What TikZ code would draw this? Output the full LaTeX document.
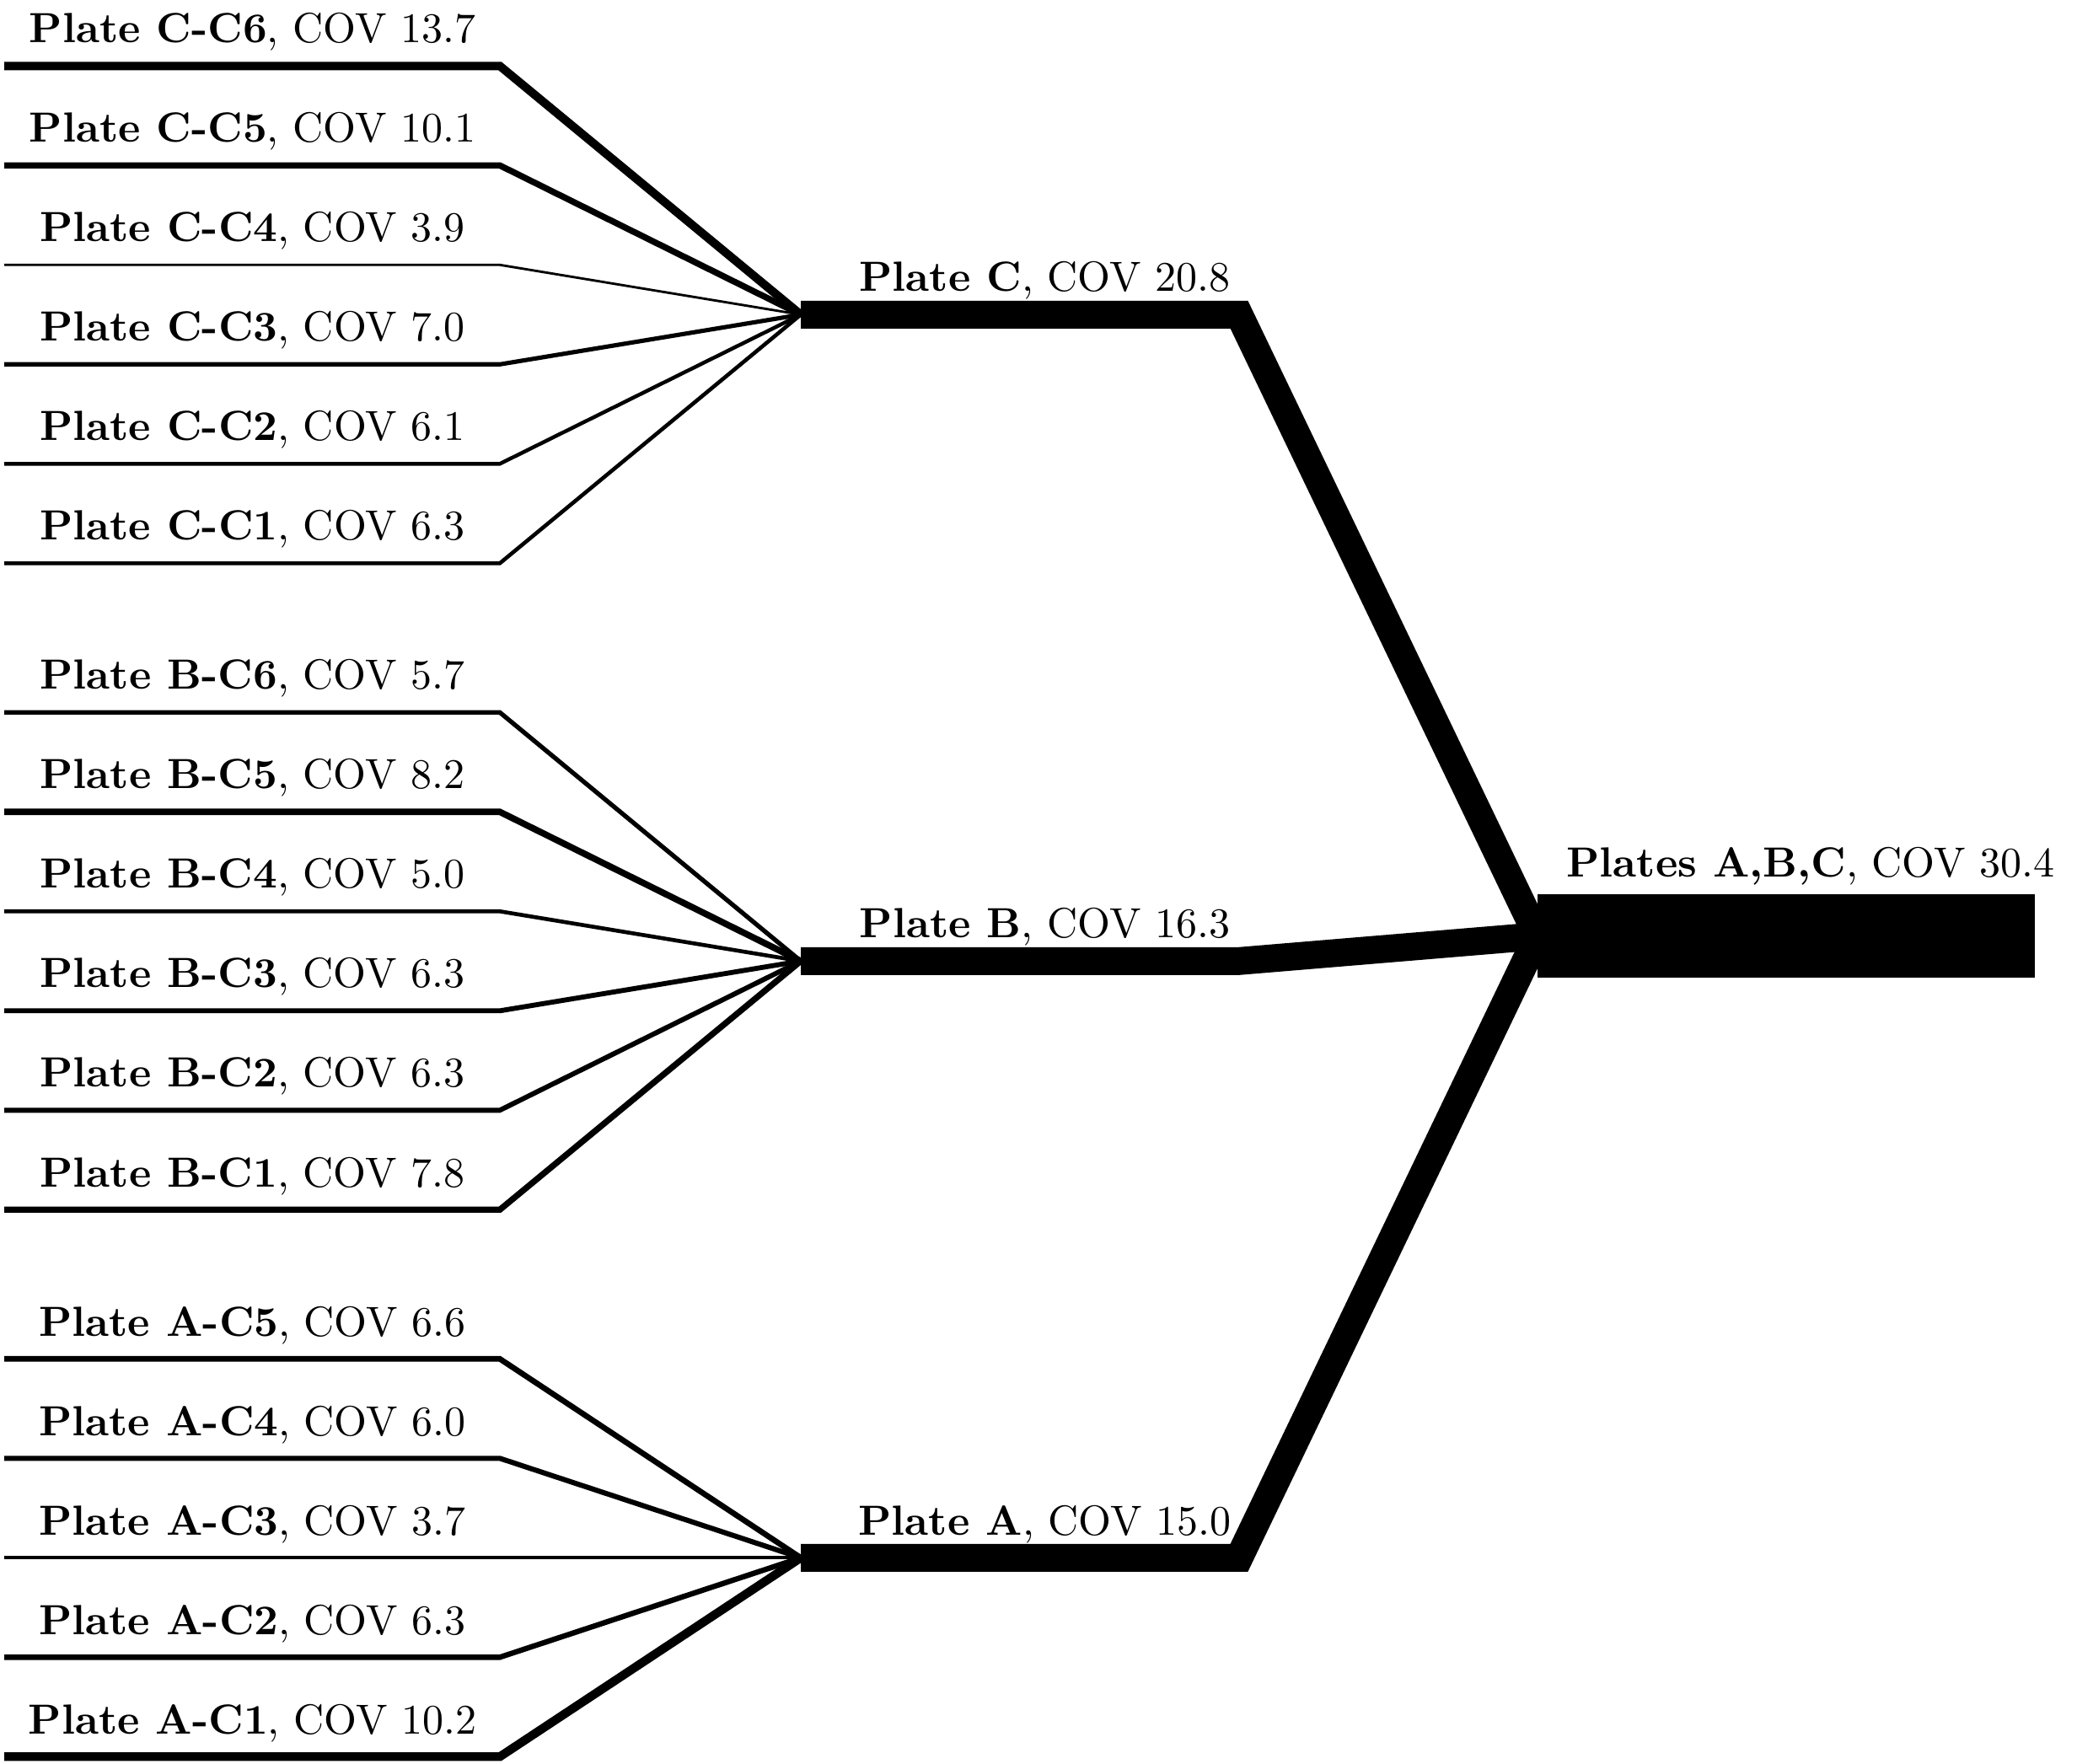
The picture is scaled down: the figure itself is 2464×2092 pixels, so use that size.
\documentclass[tikz,border=0pt]{standalone}
\begin{document}
\begin{tikzpicture}[x=0.2pt,y=-0.2pt,line join=miter,line cap=butt,
  lbl/.style={above,font=\fontsize{10}{12}\selectfont,text=black}]
\useasboundingbox (0,0) rectangle (2464,2092);
% junctions
\coordinate (jC) at (950,373.3);
\coordinate (jB) at (950,1140.3);
\coordinate (jA) at (950,1848.3);
\coordinate (kC) at (1470,373.3);
\coordinate (kB) at (1470,1140.3);
\coordinate (kA) at (1470,1848.3);
\coordinate (root) at (1824,1110.8);
\coordinate (rootEnd) at (2414,1110.8);
% leaves: group/name/index/cov/width(px)
\foreach \g/\c/\idx/\cov/\w in {
  C/C6/0/13.7/10.0, C/C5/1/10.1/7.38, C/C4/2/3.9/2.85, C/C3/3/7.0/5.12, C/C2/4/6.1/4.46, C/C1/5/6.3/4.6,
  B/C6/6.5/5.7/5.32, B/C5/7.5/8.2/7.65, B/C4/8.5/5.0/4.66, B/C3/9.5/6.3/5.87, B/C2/10.5/6.3/5.87, B/C1/11.5/7.8/7.27,
  A/C5/13/6.6/6.69, A/C4/14/6.0/6.08, A/C3/15/3.7/3.75, A/C2/16/6.3/6.38, A/C1/17/10.2/10.3}{
  \pgfmathsetmacro\yy{78.3+118*\idx}
  \coordinate (s\g\c) at (5,\yy);
  \coordinate (c\g\c) at (593,\yy);
  \draw[line width=\w*0.2pt] (s\g\c) -- (c\g\c) -- (j\g);
  \node[lbl] (l\g\c) at (299.5,\yy) {\textbf{Plate \g-\c}, COV \cov};
}
% mid level
\draw[line width=6.6pt] (jC) -- (kC) -- (root);
\draw[line width=6.6pt] (jB) -- (kB) -- (root);
\draw[line width=6.6pt] (jA) -- (kA) -- (root);
\node[lbl] (lC) at (1239.5,373.3) {\textbf{Plate C}, COV 20.8};
\node[lbl] (lB) at (1239.5,1140.3) {\textbf{Plate B}, COV 16.3};
\node[lbl] (lA) at (1239.5,1848.3) {\textbf{Plate A}, COV 15.0};
% root
\draw[line width=19.8pt] (root) -- (rootEnd);
\node[anchor=base,font=\fontsize{10}{12}\selectfont] (lR) at (2148,1040) {\textbf{Plates A,B,C}, COV 30.4};
\end{tikzpicture}
\end{document}
